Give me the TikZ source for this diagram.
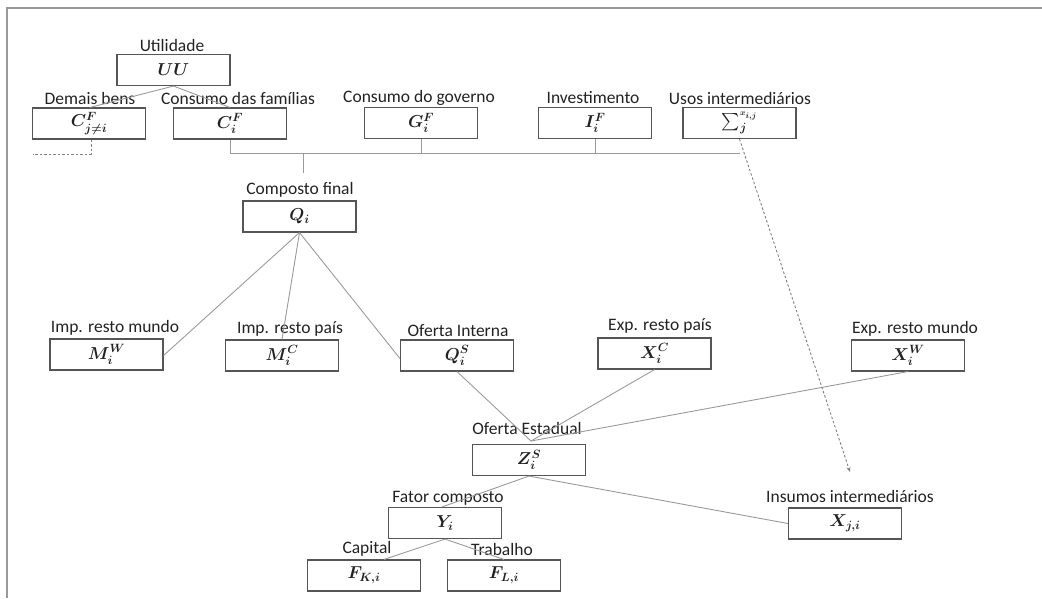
\documentclass[tikz,border=0pt]{standalone}
\usepackage{amsmath}
\usepackage{fontspec}
\setmainfont{Carlito}
\usetikzlibrary{arrows.meta,calc}
\definecolor{boxline}{HTML}{555555}
\definecolor{conn}{HTML}{9A9A9A}
\definecolor{txt}{HTML}{222222}
\tikzset{
  stbox/.style={draw=boxline,line width=1.1pt,minimum width=113pt,minimum height=31pt,inner sep=0pt,text=txt,font=\fontsize{16.5}{18}\selectfont\boldmath},
  lbl/.style={inner sep=0pt,text=txt,font=\fontsize{17.5}{19}\selectfont},
  conline/.style={draw=conn,line width=0.9pt},
  dashline/.style={draw=gray,line width=0.9pt,dash pattern=on 2.5pt off 2pt},
  frameline/.style={draw=gray!80,line width=1.6pt}
}
\begin{document}
\begin{tikzpicture}[x=1pt,y=-1pt]
\useasboundingbox (0,0) rectangle (1042,598);
% frame
\coordinate (fA) at (1042,8);
\coordinate (fB) at (7,8);
\coordinate (fC) at (7,598);
\draw[frameline] (fA) -- (fB) -- (fC);

% boxes
\node[stbox] (UU) at (173.5,70) {$UU$};
\node[stbox] (Cj) at (89,123.5) {$C^F_{j\neq i}$};
\node[stbox] (Ci) at (230,123.5) {$C^F_i$};
\node[stbox] (G) at (421,123) {$G^F_i$};
\node[stbox] (I) at (595,123) {$I^F_i$};
\node[stbox] (S) at (739.5,123) {$\sum\nolimits_j^{\scriptscriptstyle x_{i,j}}$};
\node[stbox] (Q) at (299.5,216.5) {$Q_i$};
\node[stbox] (MW) at (106.5,354.5) {$M^W_i$};
\node[stbox] (MC) at (282,355.5) {$M^C_i$};
\node[stbox] (QS) at (457,355.5) {$Q^S_i$};
\node[stbox] (XC) at (654.5,353.5) {$X^C_i$};
\node[stbox] (XW) at (908,355.5) {$X^W_i$};
\node[stbox] (Z) at (529,460) {$Z^S_i$};
\node[stbox] (Y) at (445,523) {$Y_i$};
\node[stbox] (X) at (845,523.5) {$X_{j,i}$};
\node[stbox] (FK) at (364,575.5) {$F_{K,i}$};
\node[stbox] (FL) at (504,575.5) {$F_{L,i}$};

% labels
\node[lbl] (lUU) at (172,45) {Utilidade};
\node[lbl] (lCj) at (90,98) {Demais bens};
\node[lbl] (lCi) at (238,98) {Consumo das famílias};
\node[lbl] (lG) at (419,98) {Consumo do governo};
\node[lbl] (lI) at (593,98) {Investimento};
\node[lbl] (lS) at (740,98) {Usos intermediários};
\node[lbl] (lQ) at (300,190) {Composto final};
\node[lbl] (lMW) at (115,328) {Imp. resto mundo};
\node[lbl] (lMC) at (290,329) {Imp. resto país};
\node[lbl] (lQS) at (458,331) {Oferta Interna};
\node[lbl] (lXC) at (660,326) {Exp. resto país};
\node[lbl] (lXW) at (915,329) {Exp. resto mundo};
\node[lbl] (lZ) at (527,428) {Oferta Estadual};
\node[lbl] (lY) at (448,498) {Fator composto};
\node[lbl] (lX) at (850,496) {Insumos intermediários};
\node[lbl] (lFK) at (367,549) {Capital};
\node[lbl] (lFL) at (502,549) {Trabalho};

% coordinates
\coordinate (barL) at (230,153);
\coordinate (barR) at (740,153);
\coordinate (drop) at (303,153);
\coordinate (dropEnd) at (303,173);
\coordinate (junc) at (531,441);
\coordinate (djCorner) at (91,154);
\coordinate (djEnd) at (33,154);
\coordinate (arrEnd) at (850,472);

% connectors
\draw[conline] (UU.south) -- ([xshift=1pt]Cj.north);
\draw[conline] (UU.south) -- (Ci.north);
\draw[conline] (Ci.south) -- (barL) -- (barR);
\draw[conline] (G.south) -- (G.south |- barL);
\draw[conline] (I.south) -- (I.south |- barL);
\draw[conline] (drop) -- (dropEnd);
\draw[conline] (Q.south) -- ([yshift=-1pt]MW.east);
\draw[conline] (Q.south) -- (MC.north);
\draw[conline] (Q.south) -- ([yshift=-3pt]QS.west);
\draw[conline] (QS.south) -- (junc);
\draw[conline] (XC.south) -- (junc);
\draw[conline] (XW.south) -- (junc);
\draw[conline] (Z.south) -- ([xshift=-3pt]Y.north);
\draw[conline] (Z.south) -- (X.west);
\draw[conline] (Y.south) -- ([xshift=20pt]FK.north);
\draw[conline] (Y.south) -- (FL.north);
\draw[dashline] ([xshift=2pt]Cj.south) -- (djCorner) -- (djEnd);
\draw[dashline,-{Stealth[length=5pt,width=4pt]}] (S.south) -- (arrEnd);
\end{tikzpicture}
\end{document}
